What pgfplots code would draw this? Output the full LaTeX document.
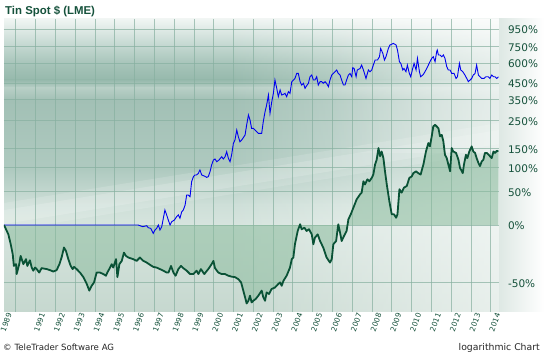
\documentclass[border=0pt]{standalone}
\usepackage{pgfplots}
\pgfplotsset{compat=1.18}
\usepackage{pgfplotstable}
\usepackage{fontspec}
\setmainfont{DejaVu Sans}
\newfontfamily\titlefont{Liberation Sans}
\usetikzlibrary{fadings}
\definecolor{tgreen}{RGB}{10,82,54}
\definecolor{tlabel}{RGB}{22,82,60}
\definecolor{gridc}{RGB}{135,176,160}
\definecolor{areac}{RGB}{140,188,158}
\definecolor{tblue}{RGB}{0,0,240}
\definecolor{b019}{RGB}{240,245,243}
\definecolor{b040}{RGB}{205,222,216}
\definecolor{b065}{RGB}{165,195,184}
\definecolor{b080}{RGB}{150,185,172}
\definecolor{b088}{RGB}{184,207,198}
\definecolor{b100}{RGB}{162,192,181}
\definecolor{b170}{RGB}{175,202,192}
\definecolor{b205}{RGB}{206,223,216}
\definecolor{b225}{RGB}{214,228,222}
\definecolor{b312}{RGB}{198,216,207}
\definecolor{rside}{RGB}{222,232,228}
\tikzfading[name=fadeinright, left color=transparent!100, right color=transparent!0]

\pgfplotstableread{
x y
1989.41 1.000
1989.63 0.894
1989.75 0.794
1989.85 0.705
1989.91 0.612
1990.02 0.625
1990.05 0.555
1990.18 0.625
1990.25 0.690
1990.39 0.625
1990.52 0.664
1990.59 0.612
1990.72 0.655
1990.81 0.600
1990.89 0.578
1990.98 0.600
1991.06 0.589
1991.19 0.565
1991.31 0.596
1991.57 0.589
1991.73 0.582
1991.90 0.572
1992.07 0.582
1992.21 0.625
1992.32 0.677
1992.44 0.763
1992.54 0.733
1992.66 0.664
1992.78 0.612
1992.88 0.589
1992.95 0.605
1993.08 0.589
1993.25 0.565
1993.42 0.535
1993.59 0.493
1993.72 0.455
1993.84 0.482
1993.96 0.502
1994.09 0.565
1994.26 0.565
1994.43 0.555
1994.56 0.544
1994.63 0.565
1994.77 0.600
1994.85 0.625
1994.93 0.600
1995.07 0.664
1995.14 0.535
1995.24 0.625
1995.36 0.650
1995.47 0.718
1995.57 0.690
1995.69 0.677
1995.94 0.664
1996.11 0.650
1996.28 0.677
1996.45 0.650
1996.62 0.637
1996.79 0.620
1996.95 0.605
1997.12 0.600
1997.29 0.589
1997.46 0.578
1997.63 0.565
1997.72 0.565
1997.85 0.612
1997.97 0.565
1998.08 0.544
1998.22 0.589
1998.35 0.612
1998.47 0.596
1998.64 0.578
1998.81 0.555
1998.98 0.555
1999.14 0.578
1999.23 0.555
1999.36 0.589
1999.53 0.555
1999.73 0.589
1999.90 0.625
1999.99 0.650
2000.07 0.596
2000.24 0.565
2000.41 0.555
2000.58 0.555
2000.75 0.544
2000.91 0.538
2001.08 0.535
2001.25 0.522
2001.39 0.502
2001.50 0.455
2001.59 0.420
2001.67 0.390
2001.76 0.403
2001.84 0.428
2001.92 0.395
2002.01 0.403
2002.13 0.412
2002.26 0.428
2002.43 0.455
2002.51 0.420
2002.60 0.403
2002.68 0.445
2002.80 0.437
2002.93 0.464
2003.10 0.472
2003.27 0.493
2003.36 0.502
2003.44 0.482
2003.53 0.512
2003.69 0.544
2003.86 0.600
2003.95 0.664
2004.03 0.677
2004.11 0.794
2004.25 0.931
2004.37 1.009
2004.45 0.950
2004.59 0.968
2004.70 0.931
2004.82 0.950
2004.96 0.894
2005.04 0.794
2005.12 0.859
2005.26 0.894
2005.38 0.825
2005.54 0.763
2005.71 0.677
2005.88 0.637
2005.97 0.664
2006.05 0.794
2006.19 0.825
2006.30 1.009
2006.39 0.912
2006.47 0.825
2006.59 0.877
2006.72 0.931
2006.81 1.070
2006.93 1.137
2007.06 1.229
2007.23 1.362
2007.40 1.444
2007.48 1.475
2007.57 1.690
2007.65 1.628
2007.77 1.731
2007.87 1.690
2007.99 1.761
2008.07 1.833
2008.16 2.068
2008.24 2.191
2008.33 2.519
2008.41 2.284
2008.49 2.417
2008.58 2.232
2008.66 1.905
2008.75 1.628
2008.88 1.331
2009.00 1.137
2009.12 1.137
2009.22 1.091
2009.29 1.137
2009.39 1.536
2009.50 1.475
2009.62 1.567
2009.76 1.597
2009.89 1.761
2010.01 1.792
2010.09 1.864
2010.23 1.905
2010.34 1.864
2010.46 1.833
2010.60 2.068
2010.73 2.417
2010.85 2.673
2010.93 2.570
2011.02 2.898
2011.10 3.267
2011.19 3.328
2011.27 3.267
2011.36 3.195
2011.44 2.898
2011.53 2.949
2011.61 2.724
2011.69 2.324
2011.78 2.232
2011.86 2.068
2011.95 1.905
2012.03 2.519
2012.11 2.417
2012.25 2.376
2012.37 2.191
2012.45 1.987
2012.59 1.864
2012.65 2.068
2012.75 2.324
2012.82 2.232
2012.92 2.417
2013.04 2.570
2013.12 2.417
2013.21 2.376
2013.29 2.232
2013.38 2.109
2013.46 2.028
2013.55 2.150
2013.63 2.191
2013.71 2.376
2013.80 2.376
2013.93 2.304
2014.05 2.232
2014.14 2.417
2014.22 2.376
2014.31 2.437
2014.39 2.417
}\greendata

\pgfplotstableread{
x y
1989.41 1.000
1996.19 1.000
1996.28 0.992
1996.42 0.980
1996.62 0.992
1996.70 0.968
1996.82 0.961
1996.95 0.905
1997.04 0.942
1997.12 0.961
1997.21 1.000
1997.29 0.942
1997.38 0.980
1997.46 1.084
1997.54 1.197
1997.63 1.128
1997.71 1.062
1997.80 1.000
1997.88 1.040
1998.02 1.062
1998.13 1.105
1998.22 1.128
1998.30 1.084
1998.39 1.173
1998.47 1.197
1998.56 1.271
1998.64 1.433
1998.72 1.433
1998.81 1.405
1998.89 1.682
1998.98 1.786
1999.06 1.823
1999.14 1.823
1999.23 1.860
1999.31 1.936
1999.40 1.823
1999.53 1.801
1999.65 1.772
1999.73 1.786
1999.82 1.897
1999.90 2.055
1999.99 2.182
2000.07 2.209
2000.16 2.138
2000.27 2.182
2000.41 2.270
2000.49 2.209
2000.58 2.270
2000.66 2.411
2000.75 2.226
2000.83 2.138
2000.91 2.316
2001.00 2.666
2001.08 2.775
2001.17 3.128
2001.25 2.886
2001.33 2.718
2001.42 2.775
2001.59 2.946
2001.67 3.322
2001.76 3.746
2001.84 3.528
2001.92 3.192
2002.01 3.192
2002.09 3.128
2002.26 3.006
2002.43 3.006
2002.51 3.457
2002.60 3.898
2002.68 4.223
2002.77 4.762
2002.85 3.822
2002.94 4.394
2003.02 4.857
2003.10 5.70
2003.19 5.16
2003.27 4.666
2003.36 5.06
2003.44 4.762
2003.53 4.80
2003.61 4.857
2003.69 4.666
2003.78 4.953
2003.86 4.857
2003.95 5.59
2004.03 5.70
2004.11 5.81
2004.20 6.17
2004.28 6.17
2004.37 5.59
2004.45 5.37
2004.54 5.48
2004.62 5.16
2004.70 5.32
2004.79 5.48
2004.87 5.93
2004.96 6.05
2005.04 5.70
2005.12 5.70
2005.21 5.93
2005.29 5.37
2005.38 5.59
2005.46 5.59
2005.54 5.48
2005.63 5.59
2005.71 5.48
2005.80 5.26
2005.88 5.70
2005.97 6.05
2006.05 6.17
2006.14 6.30
2006.22 6.43
2006.30 6.17
2006.39 6.05
2006.47 5.70
2006.56 5.37
2006.64 5.37
2006.72 5.70
2006.81 6.05
2006.89 6.17
2006.98 5.93
2007.03 6.61
2007.10 6.55
2007.20 5.93
2007.26 6.43
2007.40 6.55
2007.48 6.82
2007.57 6.43
2007.70 5.81
2007.82 6.43
2007.90 6.30
2007.99 6.43
2008.07 6.82
2008.16 7.25
2008.28 7.25
2008.38 7.54
2008.44 8.33
2008.55 7.85
2008.63 7.25
2008.71 7.54
2008.83 8.33
2008.91 8.68
2009.00 8.76
2009.08 8.85
2009.22 8.68
2009.29 8.17
2009.39 7.10
2009.46 6.96
2009.56 6.43
2009.62 6.55
2009.72 6.30
2009.79 6.82
2009.89 6.17
2009.96 5.93
2010.06 6.55
2010.13 6.96
2010.23 6.43
2010.30 7.39
2010.40 6.30
2010.46 5.93
2010.57 6.05
2010.63 6.17
2010.77 6.55
2010.85 6.82
2010.93 7.10
2011.02 7.39
2011.10 7.54
2011.19 7.10
2011.27 8.00
2011.30 8.17
2011.36 7.70
2011.44 7.70
2011.53 7.54
2011.61 7.70
2011.69 7.39
2011.78 6.69
2011.86 6.43
2011.95 6.43
2012.03 6.17
2012.15 6.17
2012.25 5.81
2012.32 5.93
2012.42 6.96
2012.49 6.43
2012.59 6.30
2012.70 6.05
2012.79 5.81
2012.87 5.59
2012.96 5.70
2013.04 5.81
2013.12 6.05
2013.21 6.17
2013.29 6.82
2013.38 6.05
2013.46 5.93
2013.55 5.81
2013.66 5.81
2013.76 5.93
2013.88 5.93
2013.96 5.81
2014.05 6.05
2014.14 5.93
2014.22 5.93
2014.31 5.81
2014.39 5.93
}\bluedata

\begin{document}
\begin{tikzpicture}[x=1pt,y=1pt]
\useasboundingbox (0,0) rectangle (544,353);
\fill[white] (0,0) rectangle (544,353);
% plot background bands (y_tikz = 353 - y_px)
\shade[top color=b019, bottom color=b040] (4,334) rectangle (499,313);
\shade[top color=b040, bottom color=b065] (4,313.2) rectangle (499,288);
\shade[top color=b065, bottom color=b080] (4,288.2) rectangle (499,273);
\shade[top color=b080, bottom color=b088] (4,273.2) rectangle (499,265);
\shade[top color=b088, bottom color=b100] (4,265.2) rectangle (499,253);
\shade[top color=b100, bottom color=b170] (4,253.2) rectangle (499,183);
\shade[top color=b170, bottom color=b205] (4,183.2) rectangle (499,148);
\shade[top color=b205, bottom color=b225] (4,148.2) rectangle (499,128);
\shade[top color=b225, bottom color=b312] (4,128.2) rectangle (499,41);
% soft light diagonal streak
\fill[white, opacity=0.14] (4,122) -- (499,202) -- (499,230) -- (4,150) -- cycle;
\fill[white, opacity=0.16] (4,129) -- (499,209) -- (499,223) -- (4,143) -- cycle;
% lighter right part
\fill[white, path fading=fadeinright, opacity=0.6] (230,41) rectangle (499,334);
\fill[white, path fading=fadeinright, opacity=0.35] (330,200) rectangle (499,334);
% right margin
\shade[left color=rside, right color=white] (499,41) rectangle (544,334);
\begin{axis}[
  at={(4pt,41pt)}, anchor=south west,
  scale only axis, width=495pt, height=293pt,
  xmin=1989.41, xmax=2014.42,
  ymode=log, ymin=0.352, ymax=11.86,
  axis line style={draw=none},
  xtick={1989.71,1991.4,1992.4,1993.4,1994.4,1995.4,1996.4,1997.4,1998.4,1999.4,2000.4,2001.4,2002.4,2003.4,2004.4,2005.4,2006.4,2007.4,2008.4,2009.4,2010.4,2011.4,2012.4,2013.4,2014.4},
  xticklabels={1989,1991,1992,1993,1994,1995,1996,1997,1998,1999,2000,2001,2002,2003,2004,2005,2006,2007,2008,2009,2010,2011,2012,2013,2014},
  xticklabel style={rotate=70, anchor=east, font=\fontsize{7.4}{9}\selectfont, text=tlabel, inner sep=1.5pt},
  minor xtick={1990,1991,1992,1993,1994,1995,1996,1997,1998,1999,2000,2001,2002,2003,2004,2005,2006,2007,2008,2009,2010,2011,2012,2013,2014},
  xminorgrids, ymajorgrids,
  major grid style={gridc, line width=0.6pt, opacity=0.7},
  minor grid style={gridc, line width=0.6pt, opacity=0.7},
  major tick length=0pt, minor tick length=0pt,
  ytick={0.5,1,1.5,2,2.5,3.5,4.5,5.5,7,8.5,10.5},
  yticklabels={-50\%,0\%,50\%,100\%,150\%,250\%,350\%,450\%,600\%,750\%,950\%},
  yminorticks=false,
  yticklabel pos=right,
  yticklabel style={font=\fontsize{10.5}{12}\selectfont, text=tlabel, anchor=west, xshift=5.5pt, yshift=-1pt},
  clip=true,
]
\addplot[draw=none, fill=areac, fill opacity=0.55] table[x=x,y=y] {\greendata} \closedcycle;
\addplot[tblue, line width=0.9pt] table[x=x,y=y] {\bluedata};
\addplot[tgreen, line width=1.8pt, line join=round] table[x=x,y=y] {\greendata};
\end{axis}
\node[anchor=base west, inner sep=0, text=tlabel, font=\titlefont\bfseries\fontsize{11.4}{13}\selectfont] at (5,338) {Tin Spot \$ (LME)};
\node[anchor=base west, inner sep=0, text=black!85, font=\fontsize{8.6}{10}\selectfont] at (3,2) {© TeleTrader Software AG};
\node[anchor=base east, inner sep=0, text=black!85, font=\fontsize{9.3}{10}\selectfont] at (540,2) {logarithmic Chart};
\end{tikzpicture}
\end{document}
